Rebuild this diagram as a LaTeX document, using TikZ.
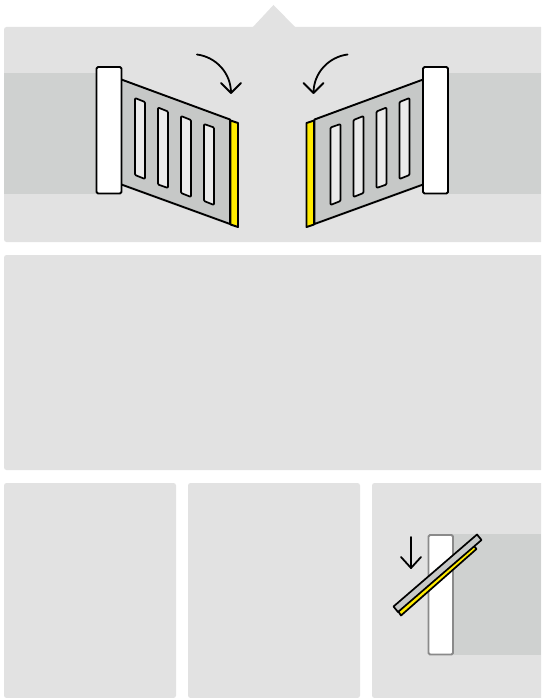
\documentclass[tikz,border=0pt]{standalone}
\definecolor{panel}{HTML}{E2E2E2}
\definecolor{band}{HTML}{CFD1D0}
\definecolor{gatefill}{HTML}{C6C8C7}
\definecolor{slatfill}{HTML}{EBEBEB}
\definecolor{yel}{HTML}{FFEB00}
\definecolor{postline}{HTML}{8A8A8A}
\tikzset{
  panelbox/.style={fill=panel,rounded corners=2.5pt},
  bandbox/.style={fill=band},
  ink/.style={draw=black,line width=1.9pt,line join=round},
  postbox/.style={ink,fill=white,rounded corners=1.5pt},
  leaf/.style={ink,fill=gatefill},
  slat/.style={ink,line width=1.7pt,fill=slatfill,rounded corners=1pt},
  edgeband/.style={ink,fill=yel},
  turn/.style={draw=black,line width=1.8pt,line cap=round,line join=round}
}
\begin{document}
\begin{tikzpicture}[x=1pt,y=-1pt]
\useasboundingbox (0,0) rectangle (541,698);
\fill[white] (0,0) rectangle (541,698);
\begin{scope}
\clip (0,0) rectangle (541,698);
% panels
\fill[panelbox] (4,27) rectangle (560,242);
\fill[panel] (252,28) -- (273.5,5) -- (296,28) -- cycle;
\fill[panelbox] (4,255) rectangle (560,470);
\fill[panelbox] (4,483) rectangle (176,698);
\fill[panelbox] (188,483) rectangle (360,698);
\fill[panelbox] (372,483) rectangle (560,698);
% bands
\fill[bandbox] (4,73) rectangle (100,194);
\fill[bandbox] (445,73) rectangle (541,194);
\fill[bandbox] (450,534) rectangle (541,655);
% left gate
\draw[leaf] (120,79) -- (230,119.5) -- (230,224) -- (120,184) -- cycle;
\draw[edgeband] (230.5,120.5) -- (238,123) -- (238,227) -- (230.5,224.5) -- cycle;
\draw[slat] (135,98) -- (145,102) -- (145,179) -- (135,175) -- cycle;
\draw[slat] (158,107.5) -- (168,111.5) -- (168,188) -- (158,184.5) -- cycle;
\draw[slat] (181,116) -- (191,120) -- (191,197) -- (181,193) -- cycle;
\draw[slat] (204,124) -- (214,127.5) -- (214,205) -- (204,201) -- cycle;
\draw[postbox] (96.5,67) rectangle (121.5,193.5);
\draw[turn] (197,54.5) .. controls (216,57) and (231,73) .. (231,93);
\draw[turn] (221,83) -- (231,93) -- (241,83);
% right gate
\draw[leaf] (424.5,79) -- (314.5,119.5) -- (314.5,224) -- (424.5,184) -- cycle;
\draw[edgeband] (314,120.5) -- (306.5,123) -- (306.5,227) -- (314,224.5) -- cycle;
\draw[slat] (409.5,98) -- (399.5,102) -- (399.5,179) -- (409.5,175) -- cycle;
\draw[slat] (386.5,107.5) -- (376.5,111.5) -- (376.5,188) -- (386.5,184.5) -- cycle;
\draw[slat] (363.5,116) -- (353.5,120) -- (353.5,197) -- (363.5,193) -- cycle;
\draw[slat] (340.5,124) -- (330.5,127.5) -- (330.5,205) -- (340.5,201) -- cycle;
\draw[postbox] (423,67) rectangle (448,193.5);
\draw[turn] (347.5,54.5) .. controls (328.5,57) and (313.5,73) .. (313.5,93);
\draw[turn] (323.5,83) -- (313.5,93) -- (303.5,83);
% open gate, third panel
\draw[draw=postline,line width=1.8pt,fill=white,rounded corners=1.5pt] (428.5,535) rectangle (453,654.5);
\draw[edgeband,line width=1.7pt] (397,609.5) -- (473.5,545.5) -- (476.5,549) -- (401,615.5) -- cycle;
\draw[leaf,line width=1.7pt] (477,534.5) -- (481.5,540) -- (398,612) -- (393.5,606.5) -- cycle;
\draw[turn] (411,537) -- (411,568);
\draw[turn] (401,557) -- (411,568) -- (421,557);
\end{scope}
\end{tikzpicture}
\end{document}
